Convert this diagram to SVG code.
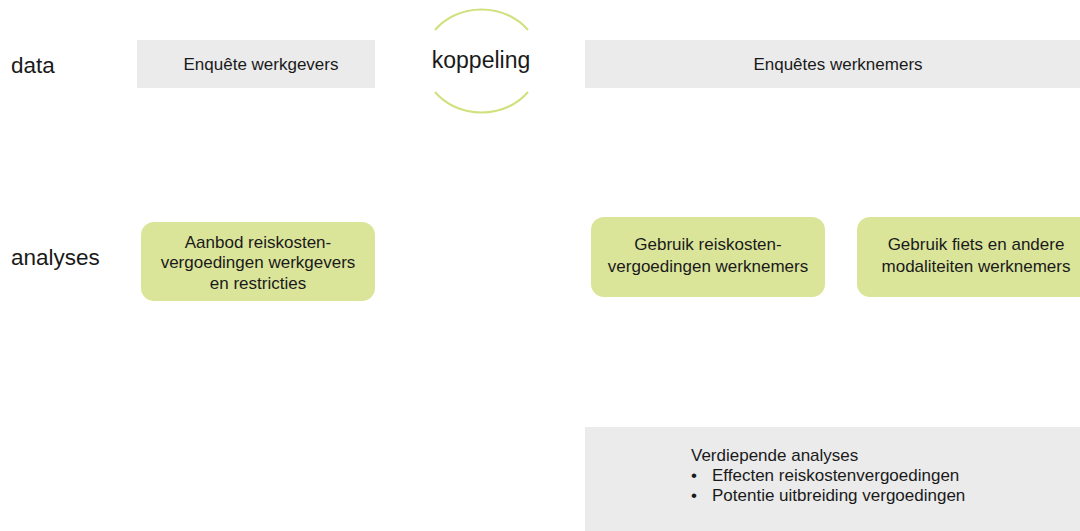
<svg xmlns="http://www.w3.org/2000/svg" width="1080" height="531" viewBox="0 0 1080 531">
<style>
text{font-family:"Liberation Sans",Arial,sans-serif;fill:#1a1a1a}
.lbl{font-size:22.5px}
.gray{fill:#ebebeb}
.green{fill:#dbe59a}
.t{font-size:17px;text-anchor:middle}
.b{font-size:17px}
.arc{fill:none;stroke:#d2e07e;stroke-width:2}
</style>
<rect width="1080" height="531" fill="#ffffff"/>
<g id="row-labels">
<text class="lbl" x="11" y="73">data</text>
<text class="lbl" x="11" y="265">analyses</text>
</g>
<g id="enquete-werkgevers">
<rect class="gray" x="137" y="40" width="238" height="48"/>
<text class="t" x="261" y="70">Enquête werkgevers</text>
</g>
<g id="koppeling">
<path class="arc" d="M435,30 A58,51 0 0 1 528,30"/>
<path class="arc" d="M435,92 A58,51 0 0 0 528,92"/>
<text x="481" y="68" font-size="23" text-anchor="middle">koppeling</text>
</g>
<g id="enquetes-werknemers">
<rect class="gray" x="585" y="40" width="495" height="48"/>
<text class="t" x="838" y="70">Enquêtes werknemers</text>
</g>
<g id="aanbod">
<rect class="green" x="141" y="222" width="234" height="79" rx="13"/>
<text class="t" x="258" y="248">Aanbod reiskosten-</text>
<text class="t" x="258" y="268">vergoedingen werkgevers</text>
<text class="t" x="258" y="289">en restricties</text>
</g>
<g id="gebruik-reiskosten">
<rect class="green" x="591" y="217" width="234" height="80" rx="13"/>
<text class="t" x="708" y="250">Gebruik reiskosten-</text>
<text class="t" x="708" y="272">vergoedingen werknemers</text>
</g>
<g id="gebruik-fiets">
<rect class="green" x="857" y="217" width="240" height="80" rx="13"/>
<text class="t" x="976" y="250">Gebruik fiets en andere</text>
<text class="t" x="976" y="272">modaliteiten werknemers</text>
</g>
<g id="verdiepende">
<rect class="gray" x="585" y="427" width="495" height="104"/>
<text class="b" x="691" y="461">Verdiepende analyses</text>
<text class="b" x="691" y="481">•</text>
<text class="b" x="712" y="481">Effecten reiskostenvergoedingen</text>
<text class="b" x="691" y="501">•</text>
<text class="b" x="712" y="501">Potentie uitbreiding vergoedingen</text>
</g>
<g id="connectors"></g>
</svg>
